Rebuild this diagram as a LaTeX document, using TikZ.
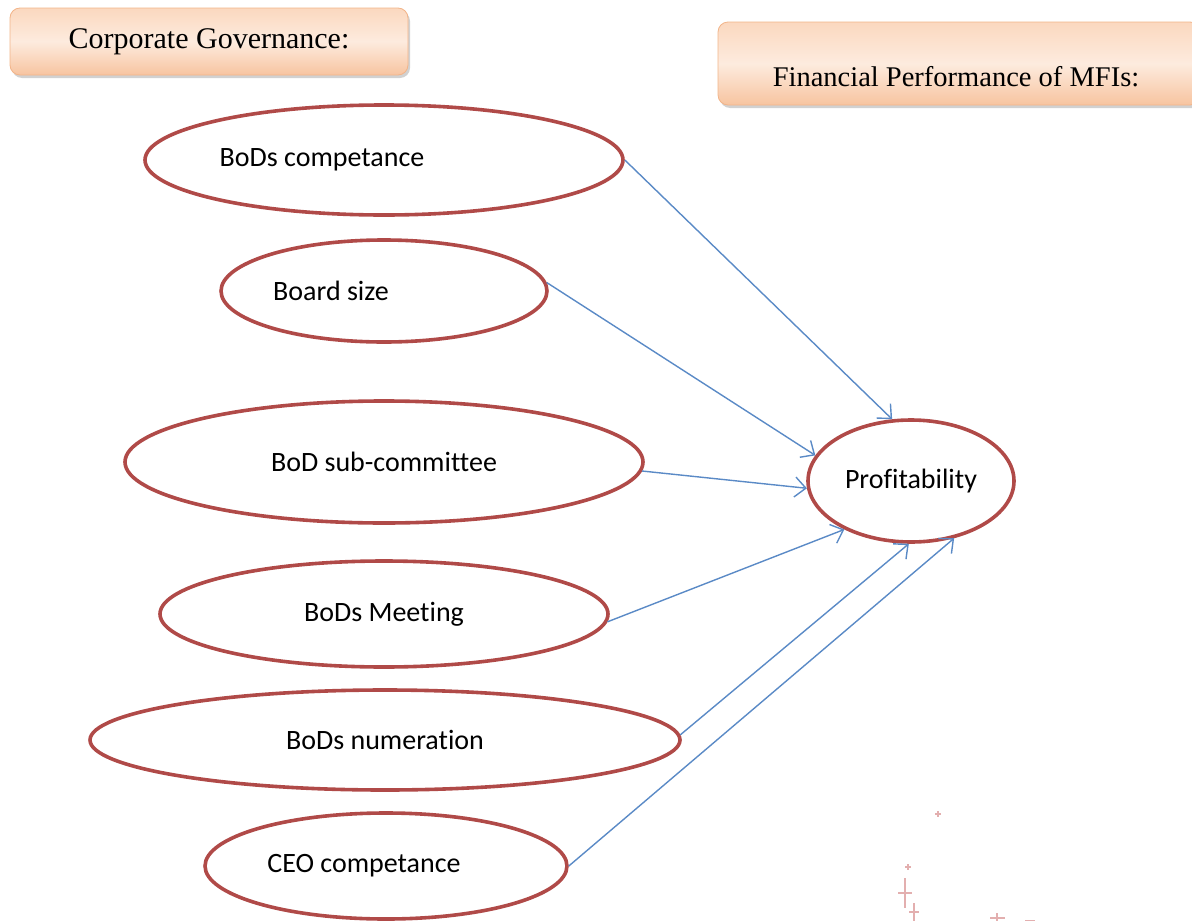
\documentclass[tikz,border=0pt]{standalone}
\usepackage{fontspec}
\setmainfont{Liberation Serif}
\newfontfamily\bodyfont[Ligatures={NoCommon,NoContextual}]{Carlito}
\usetikzlibrary{shapes.geometric,arrows.meta,shadows}

\definecolor{ringred}{HTML}{B04A48}
\definecolor{linkblue}{HTML}{5A8AC6}
\definecolor{peachdark}{HTML}{F7C4A0}
\definecolor{peachtop}{HTML}{FBD8BF}
\definecolor{peachlight}{HTML}{FDEBDE}
\definecolor{peachedge}{HTML}{F2B489}
\definecolor{speck}{HTML}{E3AFAF}

\tikzset{
  factor/.style={ellipse, draw=ringred, line width=3.6pt, fill=white, inner sep=0pt,
    font=\bodyfont\fontsize{28}{33}\selectfont},
  factortext/.style={font=\bodyfont\fontsize{28}{33}\selectfont},
  header/.style={rectangle, rounded corners=10pt, draw=peachedge, line width=0.8pt,
    top color=peachtop, bottom color=peachdark, middle color=peachlight,
    drop shadow={shadow xshift=2pt, shadow yshift=-3pt, opacity=0.4, fill=black!45},
    inner sep=0pt},
  link/.style={draw=linkblue, line width=1.4pt,
    -{Straight Barb[length=11pt, width=20pt, line width=1.4pt]}},
  specks/.style={draw=speck, line width=2.4pt}
}

\begin{document}
\begin{tikzpicture}[x=1pt, y=-1pt]
\useasboundingbox (0,0) rectangle (1192,921);
\clip (0,0) rectangle (1192,921);

% headings
\node[header, minimum width=398pt, minimum height=67pt] (cg) at (209,41.5) {};
\node[font=\fontsize{30}{34}\selectfont] (cgt) at (209,42) {Corporate Governance:};
\node[header, minimum width=482pt, minimum height=83pt] (fp) at (959,63.5) {};
\node[font=\fontsize{28.5}{33}\selectfont] (fpt) at (956,77) {Financial Performance of MFIs:};

% governance factors
\node[factor, minimum width=478pt, minimum height=110pt,
  label={[factortext, xshift=-62pt]center:BoDs competance}] (e1) at (384,160) {};
\node[factor, minimum width=326pt, minimum height=102pt,
  label={[factortext, xshift=-53pt]center:Board size}] (e2) at (384,291) {};
\node[factor, minimum width=518pt, minimum height=122pt] (e3) at (384,462) {BoD sub-committee};
\node[factor, minimum width=448pt, minimum height=106pt] (e4) at (384,614) {BoDs Meeting};
\node[factor, minimum width=590pt, minimum height=100pt] (e5) at (385,740) {BoDs numeration};
\node[factor, minimum width=362pt, minimum height=106pt,
  label={[factortext, xshift=-22pt]center:CEO competance}] (e6) at (386,866) {};

% outcome
\node[factor, minimum width=206pt, minimum height=122pt] (prof) at (911,481) {Profitability};

% links
\draw[link] (e1.east) -- (prof.107);
\draw[link] (e2.3) -- (prof.165);
\draw[link] (e3.-2) -- (prof.184);
\draw[link] (e4.-2.5) -- (prof.216);
\draw[link] (e5.1) -- (prof.268);
\draw[link] (e6.east) -- (prof.307);

% faint specks
\draw[specks, line width=1.4pt] (935,814) -- (941,814) (938,811) -- (938,817);
\draw[specks, line width=1.4pt] (905,867) -- (911,867) (908,864) -- (908,870);
\draw[specks] (905,878) -- (905,908) (898,893) -- (912,893);
\draw[specks, line width=1.8pt] (914,903) -- (914,921) (909,912) -- (919,912);
\draw[specks] (990,918) -- (1005,918) (997,913) -- (997,921);
\draw[specks] (1025,921) -- (1035,921);
\end{tikzpicture}
\end{document}
